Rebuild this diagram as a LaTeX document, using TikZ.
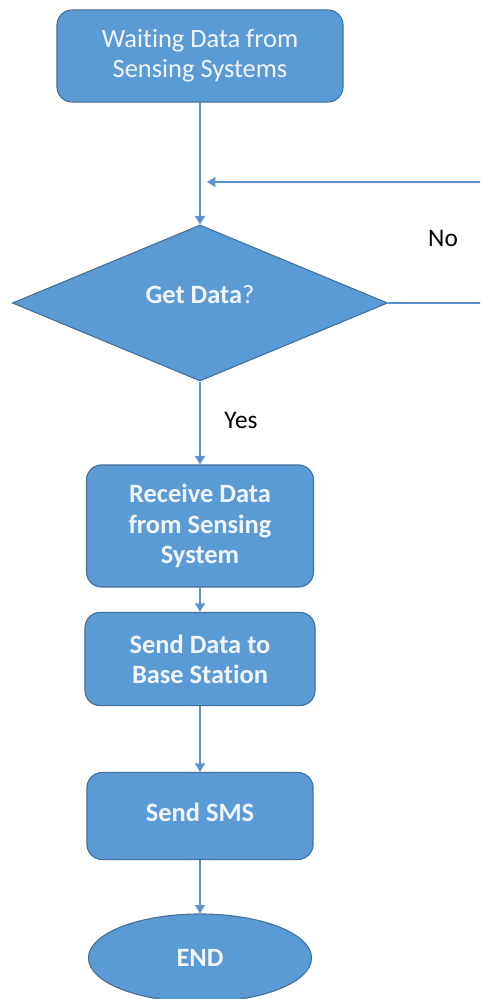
\documentclass[tikz,border=0pt]{standalone}
\usepackage{fontspec}
\setmainfont[Ligatures=NoCommon]{Carlito}
\usetikzlibrary{shapes.geometric,arrows.meta}

\definecolor{boxblue}{HTML}{5B9BD5}
\definecolor{edgeblue}{HTML}{41719C}
\definecolor{lineblue}{HTML}{5B93CF}
\definecolor{boxtext}{HTML}{F2F6FC}

\tikzset{
  stepbox/.style={rectangle, rounded corners=0.38cm, fill=boxblue, draw=edgeblue,
    line width=0.8pt, text=boxtext, align=center, inner sep=0pt,
    font=\fontsize{18.8}{21.5}\selectfont},
  decision/.style={diamond, fill=boxblue, draw=edgeblue, line width=0.8pt,
    text=boxtext, inner sep=0pt, font=\fontsize{18.8}{21.5}\selectfont},
  terminal/.style={ellipse, fill=boxblue, draw=edgeblue, line width=0.8pt,
    text=boxtext, inner sep=0pt, font=\fontsize{18.8}{21.5}\selectfont},
  flow/.style={lineblue, line width=1.1pt, -{Triangle[width=7pt,length=6pt]}},
  answer/.style={text=black, font=\fontsize{18}{21}\selectfont}
}

\begin{document}
\begin{tikzpicture}[x=0.025cm, y=-0.025cm]

\useasboundingbox (0,0) rectangle (480,999);
\clip (0,0) rectangle (480,999);

\node[stepbox, minimum width=7.15cm, minimum height=2.3cm] (wait) at (200,56)
  {Waiting Data from\\Sensing Systems};
\node[decision, minimum width=9.375cm, minimum height=3.9cm] (get) at (200,303)
  {\raisebox{0.45cm}{\textbf{Get Data}?}};
\node[stepbox, minimum width=5.675cm, minimum height=3.05cm] (recv) at (200,526)
  {\textbf{Receive Data}\\\textbf{from Sensing}\\\textbf{System}};
\node[stepbox, minimum width=5.75cm, minimum height=2.33cm] (send) at (200,659)
  {\textbf{Send Data to}\\\textbf{Base Station}};
\node[stepbox, minimum width=5.65cm, minimum height=2.175cm] (sms) at (200,816)
  {\raisebox{0.2cm}{\textbf{Send SMS}}};
\node[terminal, minimum width=5.575cm, minimum height=2.2cm] (end) at (200,958)
  {\textbf{END}};

\node[answer] (no) at (443,238) {No};
\node[answer] (yes) at (241,420) {Yes};

% main column
\draw[flow] (wait) -- (get);
\draw[flow] (get) -- (recv);
\draw[flow] (recv) -- (send);
\draw[flow] (send) -- (sms);
\draw[flow] (sms) -- (end);

% loop back when no data
\coordinate (back) at (207,182);
\draw[flow] (get.east) -- (520,303) -- (520,182) -- (back);

\end{tikzpicture}
\end{document}
